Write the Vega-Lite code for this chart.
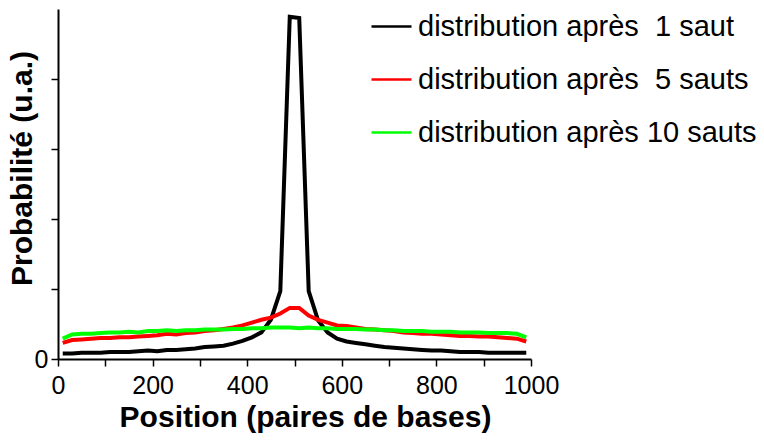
{
  "$schema": "https://vega.github.io/schema/vega-lite/v6.json",
  "width": 473,
  "height": 350,
  "autosize": "none",
  "padding": {"left": 58, "top": 9, "right": 233, "bottom": 82},
  "background": "white",
  "config": {"view": {"stroke": null}, "font": "Liberation Sans"},
  "data": {"values": [
    {"x":10,"k1":0.08,"k5":0.23,"k10":0.29},
    {"x":30,"k1":0.08,"k5":0.27,"k10":0.35},
    {"x":50,"k1":0.09,"k5":0.28,"k10":0.36},
    {"x":70,"k1":0.09,"k5":0.29,"k10":0.36},
    {"x":90,"k1":0.09,"k5":0.30,"k10":0.37},
    {"x":110,"k1":0.10,"k5":0.30,"k10":0.38},
    {"x":130,"k1":0.10,"k5":0.31,"k10":0.38},
    {"x":150,"k1":0.10,"k5":0.31,"k10":0.39},
    {"x":170,"k1":0.11,"k5":0.32,"k10":0.38},
    {"x":190,"k1":0.12,"k5":0.33,"k10":0.40},
    {"x":210,"k1":0.11,"k5":0.34,"k10":0.40},
    {"x":230,"k1":0.13,"k5":0.36,"k10":0.41},
    {"x":250,"k1":0.13,"k5":0.35,"k10":0.40},
    {"x":270,"k1":0.14,"k5":0.37,"k10":0.41},
    {"x":290,"k1":0.15,"k5":0.38,"k10":0.41},
    {"x":310,"k1":0.17,"k5":0.40,"k10":0.42},
    {"x":330,"k1":0.18,"k5":0.41,"k10":0.42},
    {"x":350,"k1":0.19,"k5":0.43,"k10":0.42},
    {"x":370,"k1":0.22,"k5":0.45,"k10":0.43},
    {"x":390,"k1":0.26,"k5":0.48,"k10":0.43},
    {"x":410,"k1":0.31,"k5":0.52,"k10":0.44},
    {"x":430,"k1":0.38,"k5":0.56,"k10":0.44},
    {"x":450,"k1":0.56,"k5":0.59,"k10":0.45},
    {"x":470,"k1":0.97,"k5":0.65,"k10":0.45},
    {"x":490,"k1":4.89,"k5":0.73,"k10":0.45},
    {"x":510,"k1":4.87,"k5":0.73,"k10":0.44},
    {"x":530,"k1":0.97,"k5":0.62,"k10":0.45},
    {"x":550,"k1":0.55,"k5":0.56,"k10":0.44},
    {"x":570,"k1":0.38,"k5":0.52,"k10":0.44},
    {"x":590,"k1":0.29,"k5":0.48,"k10":0.43},
    {"x":610,"k1":0.25,"k5":0.47,"k10":0.43},
    {"x":630,"k1":0.23,"k5":0.45,"k10":0.43},
    {"x":650,"k1":0.21,"k5":0.43,"k10":0.42},
    {"x":670,"k1":0.19,"k5":0.42,"k10":0.42},
    {"x":690,"k1":0.17,"k5":0.41,"k10":0.41},
    {"x":710,"k1":0.16,"k5":0.40,"k10":0.41},
    {"x":730,"k1":0.15,"k5":0.38,"k10":0.40},
    {"x":750,"k1":0.14,"k5":0.37,"k10":0.40},
    {"x":770,"k1":0.13,"k5":0.36,"k10":0.40},
    {"x":790,"k1":0.12,"k5":0.36,"k10":0.39},
    {"x":810,"k1":0.12,"k5":0.35,"k10":0.39},
    {"x":830,"k1":0.11,"k5":0.34,"k10":0.39},
    {"x":850,"k1":0.10,"k5":0.33,"k10":0.38},
    {"x":870,"k1":0.10,"k5":0.33,"k10":0.38},
    {"x":890,"k1":0.10,"k5":0.32,"k10":0.38},
    {"x":910,"k1":0.09,"k5":0.32,"k10":0.37},
    {"x":930,"k1":0.09,"k5":0.31,"k10":0.37},
    {"x":950,"k1":0.09,"k5":0.30,"k10":0.37},
    {"x":970,"k1":0.09,"k5":0.29,"k10":0.36},
    {"x":990,"k1":0.09,"k5":0.25,"k10":0.31}
  ]},
  "transform": [{"fold": ["k1", "k5", "k10"], "as": ["serie", "p"]}],
  "mark": {"type": "line", "strokeWidth": 4, "strokeJoin": "miter", "clip": false},
  "encoding": {
    "x": {
      "field": "x", "type": "quantitative",
      "scale": {"domain": [0, 1000], "nice": false},
      "axis": {
        "values": [0,100,200,300,400,500,600,700,800,900,1000],
        "labelExpr": "datum.value % 200 == 0 ? datum.label : ''",
        "format": "d", "labelFlush": false, "labelOverlap": false,
        "title": "Position (paires de bases)",
        "titleFontSize": 30, "titleFontWeight": "bold", "titleFont": "Liberation Sans", "titleColor": "black",
        "titlePadding": 4, "titleX": 247,
        "labelFontSize": 25, "labelFont": "Liberation Sans", "labelColor": "black", "labelPadding": 7,
        "grid": false, "domainColor": "black", "domainWidth": 2, "tickColor": "black", "tickWidth": 1.5, "tickSize": 7
      }
    },
    "y": {
      "field": "p", "type": "quantitative",
      "scale": {"domain": [0, 5], "nice": false},
      "axis": {
        "values": [0,1,2,3,4],
        "labelExpr": "datum.value == 0 ? '0' : ''",
        "labelFlush": false,
        "title": "Probabilité (u.a.)",
        "titleFontSize": 30, "titleFontWeight": "bold", "titleFont": "Liberation Sans", "titleColor": "black",
        "titleX": -21, "titleY": 159, "titleAlign": "center", "titleBaseline": "bottom", "titleAngle": -90,
        "labelFontSize": 25, "labelFont": "Liberation Sans", "labelColor": "black", "labelPadding": 3,
        "grid": false, "domainColor": "black", "domainWidth": 2, "tickColor": "black", "tickWidth": 1.5, "tickSize": 7
      }
    },
    "color": {
      "field": "serie", "type": "nominal",
      "scale": {"domain": ["k1", "k5", "k10"], "range": ["#000000", "#ff0000", "#00ff00"]},
      "sort": null,
      "legend": {
        "title": null, "orient": "none", "legendX": 312, "legendY": -4,
        "symbolType": "stroke", "symbolSize": 1600, "symbolStrokeWidth": 2.5,
        "labelFontSize": 29, "labelFont": "Liberation Sans", "labelColor": "black", "labelOffset": 5,
        "rowPadding": 16, "padding": 0, "labelLimit": 400,
        "labelExpr": "datum.value == 'k1' ? 'distribution après \u00a01 saut' : datum.value == 'k5' ? 'distribution après \u00a05 sauts' : 'distribution après 10 sauts'"
      }
    }
  }
}
